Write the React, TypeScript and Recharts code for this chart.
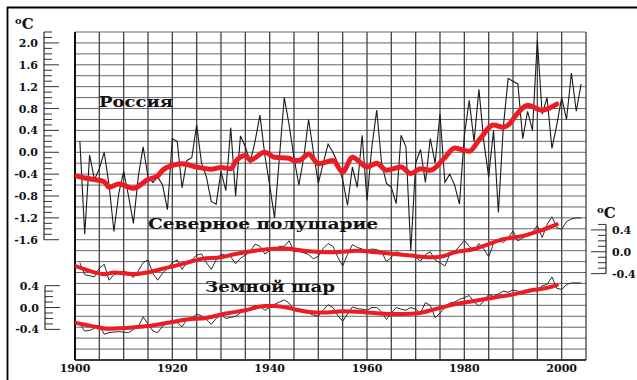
import React from 'react';
import { ComposedChart, Line, XAxis, YAxis, ReferenceLine } from 'recharts';

// Россия: годовые аномалии, °C (с 1901 г.)
const russiaStart = 1901;
const russiaAnnual = [
  0.2, -1.5, -0.05, -0.5, -0.3, 0.0, -0.6, -1.45, -0.75, -0.35,
  -0.8, -1.3, -0.45, 0.1, -0.45, -0.55, -0.45, -0.6, -1.05, 0.25,
  0.2, -0.65, -0.15, -0.1, 0.5, -0.2, -0.45, -0.9, -0.95, -0.35,
  -0.7, 0.45, -0.8, 0.3, 0.1, -0.18, 0.2, 0.68, -0.05, -0.6,
  -1.2, -0.1, 1.0, 0.5, -0.1, -0.6, -0.1, 0.6, 0.0, -0.57,
  -0.2, 0.15, 0.0, -0.2, -0.5, -0.97, -0.27, -0.64, 0.31, -0.88,
  0.1, 0.77, -0.2, -0.57, -0.64, -0.94, 0.31, 0.1, -1.8, -0.2,
  0.05, -0.55, 0.25, -0.2, 0.7, -0.55, -0.4, -0.6, -0.95, 0.3,
  0.95, 0.2, 1.15, 0.2, -0.45, 0.4, -1.1, 0.45, 1.35, 1.3,
  1.25, 0.25, 0.75, 0.4, 2.05, 0.7, 1.0, 0.07, 0.5, 1.0,
  0.6, 1.45, 0.75, 1.25,
];
// сглаженная кривая (красная)
const russiaSmoothYears = [
  1900, 1902, 1904, 1906, 1907, 1909, 1912, 1915, 1917, 1918,
  1920, 1922, 1925, 1928, 1930, 1932, 1933, 1935, 1936, 1939,
  1941, 1944, 1945, 1946, 1948, 1950, 1953, 1955, 1957, 1960,
  1962, 1964, 1967, 1969, 1971, 1973, 1976, 1978, 1981, 1983,
  1986, 1988, 1989, 1991, 1993, 1996, 1999,
];
const russiaSmooth = [
  -0.43, -0.47, -0.5, -0.54, -0.64, -0.58, -0.66, -0.5, -0.43, -0.33,
  -0.24, -0.21, -0.27, -0.31, -0.28, -0.3, -0.17, -0.06, -0.14, 0.0,
  -0.09, -0.11, -0.15, -0.15, -0.03, -0.21, -0.15, -0.36, -0.09, -0.27,
  -0.2, -0.33, -0.27, -0.39, -0.3, -0.33, -0.1, 0.08, 0.02, 0.22,
  0.5, 0.46, 0.5, 0.72, 0.86, 0.77, 0.88,
];

// Северное полушарие
const nhStart = 1901;
const nhAnnual = [
  -0.2, -0.42, -0.44, -0.46, -0.3, -0.23, -0.52, -0.42, -0.39, -0.35,
  -0.4, -0.47, -0.35, -0.2, -0.15, -0.4, -0.52, -0.39, -0.3, -0.2,
  -0.15, -0.32, -0.2, -0.15, -0.06, -0.04, -0.2, -0.32, -0.15, -0.04,
  -0.07, -0.09, -0.22, -0.12, -0.06, 0.0, 0.14, 0.1, -0.04, 0.02,
  0.05, 0.1, 0.1, 0.2, 0.0, 0.01, -0.02, -0.05, -0.13, -0.08,
  0.06, 0.15, 0.1, -0.1, -0.26, -0.05, 0.13, 0.08, 0.05, 0.02,
  0.05, 0.04, 0.0, -0.18, -0.1, 0.0, -0.03, -0.07, -0.05, -0.1,
  -0.17, -0.05, 0.0, -0.15, -0.2, -0.26, -0.05, 0.0, 0.1, 0.21,
  0.1, 0.02, 0.15, 0.05, -0.09, 0.15, 0.21, 0.17, 0.25, 0.38,
  0.2, 0.25, 0.3, 0.35, 0.48, 0.26, 0.5, 0.64, 0.44, 0.41,
  0.55, 0.6, 0.62, 0.62,
];
const nhSmoothYears = [
  1900, 1903, 1906, 1908, 1912, 1919, 1923, 1926, 1930, 1933,
  1937, 1940, 1943, 1947, 1953, 1958, 1962, 1969, 1973, 1975,
  1978, 1982, 1985, 1988, 1992, 1995, 1997, 1999,
];
const nhSmooth = [
  -0.26, -0.35, -0.41, -0.38, -0.41, -0.29, -0.2, -0.13, -0.1, -0.04,
  0.02, 0.05, 0.06, 0.02, -0.01, 0.02, -0.01, -0.07, -0.1, -0.09,
  -0.01, 0.05, 0.14, 0.23, 0.29, 0.37, 0.43, 0.5,
];

// Земной шар
const globeStart = 1901;
const globeAnnual = [
  -0.3, -0.43, -0.42, -0.38, -0.32, -0.49, -0.46, -0.45, -0.44, -0.45,
  -0.46, -0.4, -0.35, -0.17, -0.3, -0.43, -0.46, -0.34, -0.28, -0.23,
  -0.28, -0.35, -0.22, -0.2, -0.12, -0.15, -0.22, -0.31, -0.2, -0.14,
  -0.2, -0.18, -0.16, -0.1, -0.05, -0.02, 0.04, 0.02, -0.05, 0.0,
  0.06, 0.1, 0.14, 0.08, -0.04, -0.02, -0.08, -0.1, -0.14, -0.16,
  -0.05, 0.05, 0.0, -0.15, -0.25, -0.12, 0.01, -0.02, -0.03, -0.05,
  0.0, 0.0, -0.08, -0.22, -0.1, 0.0, -0.03, -0.05, 0.0, -0.03,
  -0.1, 0.09, 0.04, -0.19, -0.1, 0.0, 0.08, 0.1, 0.15, 0.18,
  0.22, 0.1, 0.03, 0.12, 0.24, 0.2, 0.25, 0.3, 0.28, 0.32,
  0.3, 0.25, 0.3, 0.35, 0.29, 0.4, 0.42, 0.56, 0.35, 0.33,
  0.42, 0.45, 0.45, 0.45,
];
const globeSmoothYears = [
  1900, 1904, 1907, 1911, 1915, 1919, 1923, 1927, 1931, 1935,
  1939, 1941, 1945, 1948, 1951, 1955, 1959, 1965, 1970, 1974,
  1978, 1982, 1986, 1990, 1994, 1997, 1999,
];
const globeSmooth = [
  -0.28, -0.35, -0.39, -0.37, -0.34, -0.28, -0.22, -0.19, -0.11, -0.05,
  0.03, 0.03, -0.03, -0.08, -0.09, -0.07, -0.08, -0.12, -0.11, -0.03,
  0.06, 0.12, 0.18, 0.24, 0.32, 0.36, 0.41,
];

const yearTicks = [1900, 1920, 1940, 1960, 1980, 2000];
const russiaLabels = [-1.6, -1.2, -0.8, -0.4, 0, 0.4, 0.8, 1.2, 1.6, 2.0];
const smallLabels = [-0.4, 0, 0.4];

// нули нижних панелей сдвинуты вниз относительно шкалы России
const NH_SHIFT = 1.82;
const GLOBE_SHIFT = 2.84;
const RU_DOMAIN: [number, number] = [-3.8, 2.2];

const steps = (from: number, to: number, step: number) => {
  const out: number[] = [];
  for (let v = from; v <= to + 1e-9; v += step) out.push(Math.round(v * 10) / 10);
  return out;
};

const rows: any[] = [];
for (let year = 1900; year <= 2004; year++) {
  const row: any = { year };
  const put = (key: string, arr: number[], start: number) => {
    const i = year - start;
    if (i >= 0 && i < arr.length) row[key] = arr[i];
  };
  const putS = (key: string, years: number[], vals: number[]) => {
    const i = years.indexOf(year);
    if (i >= 0) row[key] = vals[i];
  };
  put('ru', russiaAnnual, russiaStart);
  put('nh', nhAnnual, nhStart);
  put('gl', globeAnnual, globeStart);
  putS('ruS', russiaSmoothYears, russiaSmooth);
  putS('nhS', nhSmoothYears, nhSmooth);
  putS('glS', globeSmoothYears, globeSmooth);
  rows.push(row);
}

const FONT = '"DejaVu Serif", "Liberation Serif", serif';
const RED = '#ec1c24';
const HALF_STEP = 2.73; // половина шага 0.1 °C в пикселях

function ScaleTick(props: any) {
  const { y, payload, side, axisX, labels, top, bottom } = props;
  const v = Math.round(payload.value * 10) / 10;
  const major = labels.includes(v);
  const dir = side === 'left' ? 1 : -1;
  const len = major ? 15 : 8;
  const y1 = Math.abs(v - top) < 1e-6 ? y : y - HALF_STEP;
  const y2 = Math.abs(v - bottom) < 1e-6 ? y : y + HALF_STEP;
  return (
    <g>
      <line x1={axisX} x2={axisX} y1={y1} y2={y2} stroke="#222" strokeWidth={1.2} />
      <line x1={axisX} x2={axisX + dir * len} y1={y} y2={y} stroke="#333" strokeWidth={1} />
      {major && (
        <text
          x={side === 'left' ? axisX - 6 : axisX + 6}
          y={y}
          dy={4}
          textAnchor={side === 'left' ? 'end' : 'start'}
          fontFamily={FONT}
          fontWeight="bold"
          fontSize={11}
          fill="#111"
        >
          {v.toFixed(1)}
        </text>
      )}
    </g>
  );
}

function Degrees({ x, y }: { x: number; y: number }) {
  return (
    <text x={x} y={y} fontFamily={FONT} fontWeight="bold" fontSize={15} fill="#111">
      <tspan fontSize={10} dy={-5}>o</tspan>
      <tspan dy={5}>C</tspan>
    </text>
  );
}

export default function App() {
  const hGrid = steps(RU_DOMAIN[0], RU_DOMAIN[1], 0.2);
  const vGrid = [];
  for (let y = 1900; y <= 2005; y += 5) vGrid.push(y);

  return (
    <div style={{ position: 'absolute', left: 0, top: 0, width: 637, height: 380, background: '#fff' }}>
      <ComposedChart width={637} height={380} data={rows} margin={{ top: 32, right: 0, bottom: 0, left: 8 }}>
        <XAxis
          dataKey="year"
          type="number"
          xAxisId={0}
          domain={[1900, 2005]}
          allowDataOverflow
          ticks={yearTicks}
          tickLine={false}
          tickSize={2}
          tickMargin={2}
          height={20}
          axisLine={{ stroke: '#111', strokeWidth: 1.5 }}
          tick={{ fontFamily: FONT, fontWeight: 'bold', fontSize: 11, fill: '#111' }}
        />
        <YAxis
          yAxisId="ru"
          orientation="left"
          width={67}
          type="number"
          domain={RU_DOMAIN}
          allowDataOverflow
          ticks={steps(-1.6, 2.2, 0.1)}
          interval={0}
          axisLine={false}
          tickLine={false}
          tick={(p: any) => (
            <ScaleTick {...p} side="left" axisX={44} labels={russiaLabels} top={2.2} bottom={-1.6} />
          )}
        />
        <YAxis
          yAxisId="gl"
          orientation="left"
          mirror
          type="number"
          domain={[RU_DOMAIN[0] + GLOBE_SHIFT, RU_DOMAIN[1] + GLOBE_SHIFT]}
          allowDataOverflow
          ticks={steps(-0.4, 0.4, 0.1)}
          interval={0}
          axisLine={false}
          tickLine={false}
          tick={(p: any) => (
            <ScaleTick {...p} side="left" axisX={45} labels={smallLabels} top={0.4} bottom={-0.4} />
          )}
        />
        <YAxis
          yAxisId="nh"
          orientation="right"
          width={51}
          type="number"
          domain={[RU_DOMAIN[0] + NH_SHIFT, RU_DOMAIN[1] + NH_SHIFT]}
          allowDataOverflow
          ticks={steps(-0.4, 0.5, 0.1)}
          interval={0}
          axisLine={false}
          tickLine={false}
          tick={(p: any) => (
            <ScaleTick {...p} side="right" axisX={606} labels={smallLabels} top={0.5} bottom={-0.4} />
          )}
        />

        {hGrid.map((v) => (
          <ReferenceLine key={'h' + v} yAxisId="ru" y={v} stroke="#666" strokeWidth={1} />
        ))}
        {vGrid.map((yr) => (
          <ReferenceLine
            key={'v' + yr}
            yAxisId="ru"
            x={yr}
            stroke={yr === 1900 ? '#111' : '#444'}
            strokeWidth={yr === 1900 ? 2 : 1.3}
          />
        ))}

        <Line yAxisId="ru" dataKey="ru" type="linear" stroke="#1a1a1a" strokeWidth={1.1} dot={false} isAnimationActive={false} />
        <Line yAxisId="nh" dataKey="nh" type="linear" stroke="#2a2a2a" strokeWidth={1} dot={false} isAnimationActive={false} />
        <Line yAxisId="gl" dataKey="gl" type="linear" stroke="#2a2a2a" strokeWidth={1} dot={false} isAnimationActive={false} />
        <Line yAxisId="ru" dataKey="ruS" type="monotone" stroke={RED} strokeWidth={5} dot={false} connectNulls strokeLinecap="round" isAnimationActive={false} />
        <Line yAxisId="nh" dataKey="nhS" type="monotone" stroke={RED} strokeWidth={4} dot={false} connectNulls strokeLinecap="round" isAnimationActive={false} />
        <Line yAxisId="gl" dataKey="glS" type="monotone" stroke={RED} strokeWidth={4} dot={false} connectNulls strokeLinecap="round" isAnimationActive={false} />
      </ComposedChart>

      <svg width={637} height={380} style={{ position: 'absolute', left: 0, top: 0, pointerEvents: 'none' }}>
        <line x1={7} x2={637} y1={7.5} y2={7.5} stroke="#000" strokeWidth={1.8} />
        <line x1={7.5} x2={7.5} y1={7} y2={380} stroke="#000" strokeWidth={1.8} />
        <Degrees x={15} y={29} />
        <Degrees x={597} y={218} />
        <text x={99} y={107} fontFamily={FONT} fontWeight="bold" fontSize={14} textLength={74} lengthAdjust="spacingAndGlyphs" fill="#111">
          Россия
        </text>
        <text x={148} y={229} fontFamily={FONT} fontWeight="bold" fontSize={14} textLength={230} lengthAdjust="spacingAndGlyphs" fill="#111">
          Северное полушарие
        </text>
        <text x={205} y={292} fontFamily={FONT} fontWeight="bold" fontSize={14} textLength={130} lengthAdjust="spacingAndGlyphs" fill="#111">
          Земной шар
        </text>
      </svg>
    </div>
  );
}
